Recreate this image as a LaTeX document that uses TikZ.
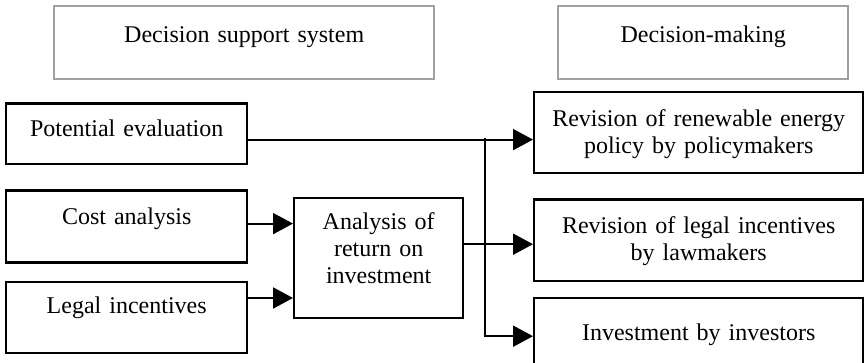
\documentclass[tikz,border=0pt]{standalone}
\usepackage{fontspec}
\setmainfont{Liberation Serif}
\usepackage{tikz}
\usetikzlibrary{arrows.meta,positioning}
\usepackage{xcolor}
\definecolor{headgray}{RGB}{160,160,160}
\tikzstyle{arrow} = [line width=1pt,-{Triangle[length=10pt,width=10.5pt]},color=black]
\tikzstyle{blocknode} = [rectangle, draw=black, line width=1.2pt, inner sep=0pt, align=center, font=\fontsize{12}{13.5}\selectfont]
\tikzstyle{headnode} = [blocknode, draw=headgray]

\begin{document}
\begin{tikzpicture}
\useasboundingbox (0,0) rectangle (432pt,-181.5pt);
\clip (0,0) rectangle (432pt,-181.5pt);

% Headers
\node[headnode, anchor=north west, text width=190pt, text height=18pt, text depth=18.5pt] (dss) at (26.5pt,-2.5pt) {Decision support system};
\node[headnode, anchor=north west, text width=145pt, text height=18pt, text depth=18.5pt] (dm) at (278.5pt,-2.5pt) {Decision-making};

% Inputs
\node[blocknode, anchor=north west, text width=120.5pt, text height=16.7pt, text depth=13.6pt] (pe) at (2.5pt,-51.2pt) {Potential evaluation};
\node[blocknode, below=12pt of pe, text width=120.5pt, text height=17pt, text depth=19pt] (cost) {Cost analysis};
\node[blocknode, below=8.5pt of cost, text width=120.5pt, text height=16pt, text depth=19.5pt] (legal) {Legal incentives};
\node[blocknode, anchor=north west, text width=84.5pt, text height=15.5pt, text depth=44.5pt] (roi) at (146.5pt,-98.5pt) {Analysis of\\ return on\\ investment};

% Decisions
\node[blocknode, anchor=north west, text width=164.5pt, text height=17pt, text depth=23.5pt] (ren) at (266.5pt,-45.5pt) {Revision of renewable energy\\ policy by policymakers};
\node[blocknode, below=12pt of ren, text width=164.5pt, text height=17pt, text depth=23.7pt] (leg) {Revision of legal incentives\\ by lawmakers};
\node[blocknode, below=7.2pt of leg, text width=164.5pt, text height=21.5pt, text depth=25pt] (inv) {Investment by investors};

\coordinate (split) at (242.5pt,-69.2pt);

\draw[arrow] ([yshift=-2.85pt]pe.east) -- ([yshift=-2.85pt]pe.east -| ren.west);
\draw[arrow] ([yshift=1.5pt]cost.east) -- ([yshift=1.5pt]cost.east -| roi.west);
\draw[arrow] ([yshift=9.75pt]legal.east) -- ([yshift=9.75pt]legal.east -| roi.west);
\draw[arrow] ([yshift=7pt]roi.east) -- ([yshift=7pt]roi.east -| leg.west);
\draw[arrow] (split) |- ([yshift=-19.8pt]inv.north west);
\end{tikzpicture}
\end{document}
